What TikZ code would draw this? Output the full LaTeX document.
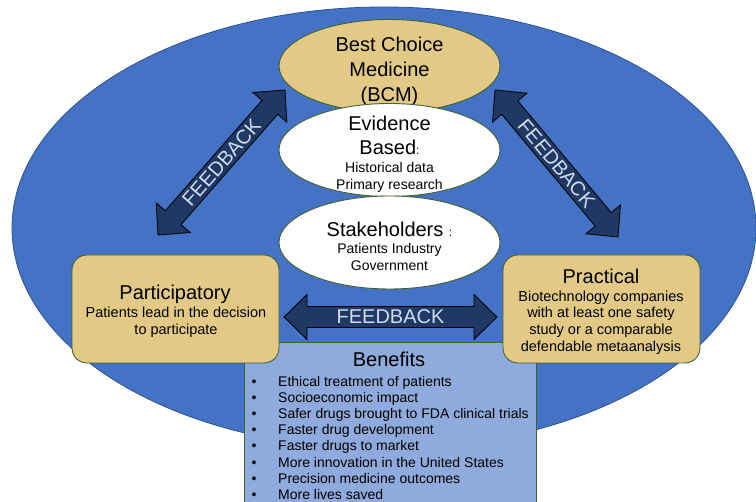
\documentclass[tikz,border=0pt]{standalone}
\usepackage{fontspec}
\setmainfont{Liberation Sans}
\usetikzlibrary{shapes.geometric,calc}

\definecolor{fieldblue}{HTML}{4472C4}
\definecolor{fieldline}{HTML}{2F528F}
\definecolor{bcmgold}{HTML}{E2CA86}
\definecolor{edgegreen}{HTML}{43612E}
\definecolor{benefitblue}{HTML}{8FAADC}
\definecolor{arrownavy}{HTML}{1F3864}
\definecolor{arrowtext}{HTML}{D0DDF0}

% double-headed block arrow between two named coordinates, with a label along it
\newcommand\feedbackarrow[3]{%
  \coordinate (#1-p) at ($(#1)!23pt!(#2)$);
  \coordinate (#1-q) at ($(#2)!23pt!(#1)$);
  \draw[arrowbody] (#1)
    -- ($(#1-p)!22.5pt!90:(#2)$) -- ($(#1-p)!10.5pt!90:(#2)$)
    -- ($(#1-q)!10.5pt!-90:(#1)$) -- ($(#1-q)!22.5pt!-90:(#1)$)
    -- (#2)
    -- ($(#1-q)!22.5pt!90:(#1)$) -- ($(#1-q)!10.5pt!90:(#1)$)
    -- ($(#1-p)!10.5pt!-90:(#2)$) -- ($(#1-p)!22.5pt!-90:(#2)$)
    -- cycle;
  \path let \p1=($(#2)-(#1)$), \n1={atan2(\y1,\x1)} in
    node[arrowlabel, rotate=\n1] (#1-label) at ($(#1)!0.5!(#2)$) {#3};
}

\begin{document}
\begin{tikzpicture}[x=1pt,y=-1pt,
  oval/.style={ellipse, draw=edgegreen, line width=0.9pt, inner sep=0pt, outer sep=0pt,
               minimum width=221pt, minimum height=93pt},
  panel/.style={draw=edgegreen, fill=bcmgold, line width=0.9pt, rounded corners=15pt,
                inner sep=0pt, outer sep=0pt},
  headtext/.style={font=\fontsize{20}{24}\selectfont, anchor=base, inner sep=0pt},
  subtext/.style={font=\fontsize{14}{17}\selectfont, anchor=base, inner sep=0pt},
  panelsub/.style={font=\fontsize{14.5}{17}\selectfont, anchor=base, inner sep=0pt},
  arrowbody/.style={fill=arrownavy, draw=black, line width=0.8pt, line join=miter},
  arrowlabel/.style={font=\fontsize{20}{24}\selectfont, text=arrowtext, inner sep=0pt},
]
\useasboundingbox (0,0) rectangle (756,502);

% large background oval
\node[ellipse, fill=fieldblue, draw=fieldline, line width=0.8pt, inner sep=0pt,
      minimum width=744pt, minimum height=442pt] (field) at (384,228) {};

% benefits panel (runs off the bottom edge)
\node[draw=edgegreen, fill=benefitblue, line width=0.9pt, inner sep=0pt, anchor=north west,
      minimum width=292pt, minimum height=175pt] (benefits) at (244,342) {};
\node[headtext] (benefits-title) at (389,367) {Benefits};
\foreach \t [count=\i] in {Ethical treatment of patients, Socioeconomic impact,
    Safer drugs brought to FDA clinical trials, Faster drug development,
    Faster drugs to market, More innovation in the United States,
    Precision medicine outcomes, More lives saved} {
  \node[subtext] (bullet\i) at (254,{370+16.2*\i}) {•};
  \node[subtext, anchor=base west] (item\i) at (278,{370+16.2*\i}) {\t};
}

% side panels
\node[panel, minimum width=207pt, minimum height=108pt] (participatory) at (175.5,309) {};
\node[headtext] (part-title) at (175,300) {Participatory};
\node[panelsub] (part-l1) at (176,318) {Patients lead in the decision};
\node[panelsub] (part-l2) at (176,335) {to participate};

\node[panel, minimum width=197pt, minimum height=108pt] (practical) at (601.5,309) {};
\node[headtext] (prac-title) at (601,284) {Practical};
\node[panelsub] (prac-l1) at (601,302) {Biotechnology companies};
\node[panelsub] (prac-l2) at (601,318) {with at least one safety};
\node[panelsub] (prac-l3) at (601,335) {study or a comparable};
\node[panelsub] (prac-l4) at (601,352) {defendable metaanalysis};

% stacked ovals
\node[oval, fill=bcmgold] (bcm) at (389.5,66) {};
\node[headtext] (bcm-l1) at (389.5,52) {Best Choice};
\node[headtext] (bcm-l2) at (389.5,77) {Medicine};
\node[headtext] (bcm-l3) at (389.5,102) {(BCM)};

\node[oval, fill=white] (evidence) at (389.5,150) {};
\node[headtext] (ev-l1) at (389.5,131) {Evidence};
\node[headtext] (ev-l2) at (389.5,155) {Based{\fontsize{12}{14}\selectfont:}};
\node[subtext] (ev-l3) at (389.5,173) {Historical data};
\node[subtext] (ev-l4) at (389.5,190) {Primary research};

\node[oval, fill=white] (stake) at (389.5,242.5) {};
\node[headtext] (st-l1) at (389.5,237) {Stakeholders {\fontsize{12}{14}\selectfont:}};
\node[subtext] (st-l2) at (389.5,254) {Patients Industry};
\node[subtext] (st-l3) at (389.5,271) {Government};

% feedback arrows
\coordinate (fh-a) at (284,317);
\coordinate (fh-b) at (497,317);
\feedbackarrow{fh-a}{fh-b}{FEEDBACK}

\coordinate (fl-a) at (158,235);
\coordinate (fl-b) at (285,90);
\feedbackarrow{fl-a}{fl-b}{FEEDBACK}

\coordinate (fr-a) at (495,90);
\coordinate (fr-b) at (618,237);
\feedbackarrow{fr-a}{fr-b}{FEEDBACK}
\end{tikzpicture}
\end{document}
